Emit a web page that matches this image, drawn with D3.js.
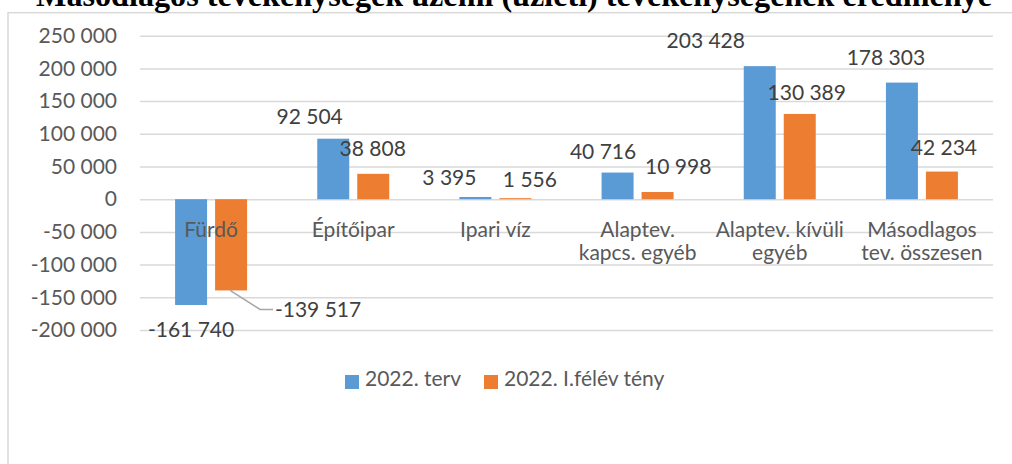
<!DOCTYPE html>
<html>
<head>
<meta charset="utf-8">
<script src="https://cdn.jsdelivr.net/npm/d3@7"></script>
<style>
  html, body { margin: 0; padding: 0; background: #fff; }
  svg { display: block; }
</style>
</head>
<body>
<div id="chart"></div>
<script>
// Kategóriák (sortöréssel, ahogy a tengelyen állnak)
const categories = ["Fürdő", "Építőipar", "Ipari víz", "Alaptev.\nkapcs. egyéb", "Alaptev. kívüli\negyéb", "Másodlagos\ntev. összesen"];
const seriesNames = ["2022. terv", "2022. I.félév tény"];
const tervValues = [-161740, 92504, 3395, 40716, 203428, 178303];
const tenyValues = [-139517, 38808, 1556, 10998, 130389, 42234];
const yTicks = [-200000, -150000, -100000, -50000, 0, 50000, 100000, 150000, 200000, 250000];
const title = "Másodlagos tevékenységek üzemi (üzleti) tevékenységének eredménye";

const W = 1012, H = 464;
const colors = ["#5B9BD5", "#ED7D31"];
const font = "Lato, 'Open Sans', sans-serif";

const svg = d3.select("#chart").append("svg")
    .attr("width", W)
    .attr("height", H);

// keret
svg.append("rect")
    .attr("x", 8).attr("y", 12.7)
    .attr("width", W + 20).attr("height", H + 20)
    .attr("fill", "none")
    .attr("stroke", "#d9d9d9")
    .attr("stroke-width", 1.5);

// skálák
const x = d3.scaleBand().domain(categories).range([140, 993]);
const xs = d3.scaleBand().domain(seriesNames).range([-36, 36]).paddingInner(0.2);
const y = d3.scaleLinear().domain([-200000, 250000]).range([330, 35.7]);

const loc = d3.formatLocale({ decimal: ",", thousands: " ", grouping: [3], currency: ["", ""], minus: "-" });
const fmt = loc.format(",d");

// y tengely + rácsvonalak
const yAxis = svg.append("g")
    .attr("transform", "translate(140,0)")
    .call(d3.axisLeft(y).tickValues(yTicks).tickFormat(fmt)
        .tickSizeInner(-(993 - 140)).tickSizeOuter(0).tickPadding(23));
yAxis.select(".domain").remove();
yAxis.selectAll(".tick line").attr("stroke", "#d9d9d9").attr("stroke-width", 1.5);
yAxis.selectAll(".tick text")
    .attr("font-family", font).attr("font-size", 21).attr("fill", "#595959");

// oszlopok
const seriesVals = [tervValues, tenyValues];
seriesNames.forEach((s, si) => {
    svg.append("g").selectAll("rect")
        .data(seriesVals[si])
        .join("rect")
        .attr("x", (d, i) => x(categories[i]) + x.bandwidth() / 2 + xs(s))
        .attr("width", xs.bandwidth())
        .attr("y", d => Math.min(y(d), y(0)))
        .attr("height", d => Math.abs(y(d) - y(0)))
        .attr("fill", colors[si]);
});

// kategória feliratok (oszlopok fölött)
categories.forEach(c => {
    const t = svg.append("text")
        .attr("font-family", font).attr("font-size", 21).attr("fill", "#595959")
        .attr("text-anchor", "middle");
    c.split("\n").forEach((line, li) => {
        t.append("tspan")
            .attr("x", x(c) + x.bandwidth() / 2)
            .attr("y", 236.6 + li * 23.4)
            .text(line);
    });
});

// adatfeliratok kézi eltolásai (oszlop közepe / vége)
const labelShift = [
    [[0, 31.7], [-23.6, -15.2], [-26, -11.8], [-14.5, -13.1], [-54, -17.7], [-16, -17.4]],
    [[87, 26.5], [-0.5, -17.6], [14.5, -11], [20.6, -18.5], [7, -13.7], [2, -16.4]]
];
seriesNames.forEach((s, si) => {
    seriesVals[si].forEach((v, i) => {
        const cx = x(categories[i]) + x.bandwidth() / 2 + xs(s) + xs.bandwidth() / 2;
        const [dx, dy] = labelShift[si][i];
        svg.append("text")
            .attr("x", cx + dx)
            .attr("y", y(v) + dy)
            .attr("text-anchor", "middle")
            .attr("font-family", font).attr("font-size", 21).attr("fill", "#404040")
            .text(fmt(v));
        // vezetővonal a -139 517 felirathoz
        if (si === 1 && i === 0) {
            const ey = y(v);
            svg.append("polyline")
                .attr("points", [[cx - 1, ey], [cx + 29, ey + 19], [cx + 42, ey + 19]].map(p => p.join(",")).join(" "))
                .attr("fill", "none")
                .attr("stroke", "#a6a6a6")
                .attr("stroke-width", 1.5);
        }
    });
});

// jelmagyarázat
const legendX = [345, 484];
seriesNames.forEach((s, si) => {
    svg.append("rect")
        .attr("x", legendX[si]).attr("y", 375)
        .attr("width", 14).attr("height", 14)
        .attr("fill", colors[si]);
    svg.append("text")
        .attr("x", legendX[si] + 20).attr("y", 386)
        .attr("font-family", font).attr("font-size", 21).attr("fill", "#595959")
        .text(s);
});

// cím (felül levágva, mint az eredetin)
const tt = svg.append("text")
    .attr("x", 514).attr("y", 6)
    .attr("text-anchor", "middle")
    .attr("font-family", "'Liberation Serif', 'Times New Roman', serif")
    .attr("font-weight", "bold")
    .attr("font-size", 28)
    .attr("fill", "#000")
    .text(title);
const tw = tt.node().getComputedTextLength();
tt.attr("font-size", 28 * 956 / tw);
</script>
</body>
</html>
